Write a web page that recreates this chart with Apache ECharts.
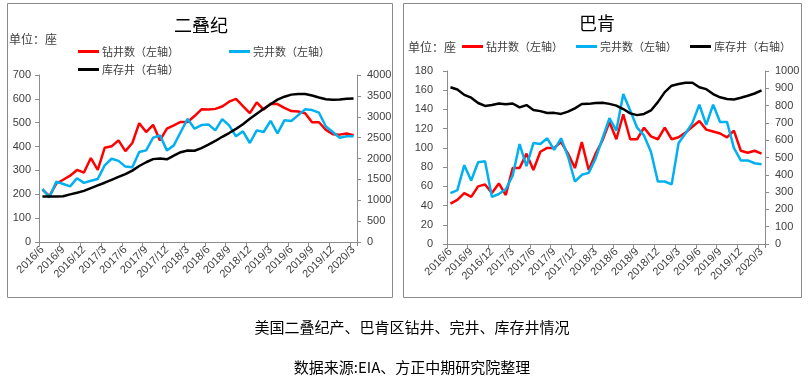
<!DOCTYPE html>
<html>
<head>
<meta charset="utf-8">
<script src="https://cdn.jsdelivr.net/npm/echarts@6/dist/echarts.min.js"></script>
<style>
html,body{margin:0;padding:0;background:#fff;}
#c{width:810px;height:379px;}
</style>
</head>
<body>
<div id="c"></div>
<script>
// ---- data ----
const months = ['2016/6','2016/7','2016/8','2016/9','2016/10','2016/11','2016/12','2017/1','2017/2','2017/3','2017/4','2017/5','2017/6','2017/7','2017/8','2017/9','2017/10','2017/11','2017/12','2018/1','2018/2','2018/3','2018/4','2018/5','2018/6','2018/7','2018/8','2018/9','2018/10','2018/11','2018/12','2019/1','2019/2','2019/3','2019/4','2019/5','2019/6','2019/7','2019/8','2019/9','2019/10','2019/11','2019/12','2020/1','2020/2','2020/3'];

const permianDrilled   = [220,192,245,261,278,302,291,352,302,395,401,426,381,415,498,461,491,426,475,489,503,503,528,556,555,558,568,588,600,570,540,585,555,580,578,562,549,547,540,502,502,470,452,450,455,448];
const permianCompleted = [222,187,253,243,233,267,248,257,264,321,349,340,316,313,377,384,437,447,384,405,461,516,475,490,493,468,515,489,443,464,415,468,461,508,455,510,507,532,556,553,542,484,461,437,443,443];
const permianDUC       = [1092,1092,1088,1095,1140,1180,1225,1290,1355,1420,1490,1560,1625,1710,1820,1910,1985,2000,1980,2070,2150,2190,2185,2250,2330,2420,2520,2610,2710,2820,2950,3070,3190,3300,3410,3480,3530,3545,3545,3510,3460,3420,3410,3415,3430,3435];

const bakkenDrilled    = [42,46,53,49,60,62,53,63,51,79,79,94,77,96,100,100,106,94,79,106,77,94,108,127,109,135,109,109,121,112,109,121,109,111,116,122,128,119,117,115,111,118,97,95,97,94];
const bakkenCompleted  = [53,56,82,66,85,86,49,52,57,71,104,81,105,104,110,98,110,91,65,72,74,89,110,131,118,156,139,121,113,96,65,65,62,105,115,126,145,124,145,127,127,100,87,87,84,83];
const bakkenDUC        = [906,893,862,846,815,798,803,812,808,812,790,803,775,768,757,758,752,765,784,809,810,815,817,810,800,780,755,745,752,772,820,878,915,925,932,932,906,895,867,848,838,835,845,857,870,888];

const nameDrilled = '钻井数（左轴）';
const nameCompleted = '完井数（左轴）';
const nameDUC = '库存井（右轴）';
const titleLeft = '二叠纪';
const titleRight = '巴肯';
const unitText = '单位：座';
const caption1 = '美国二叠纪产、巴肯区钻井、完井、库存井情况';
const caption2 = '数据来源:EIA、方正中期研究院整理';

// ---- styles ----
const CJK = '"Noto Sans CJK SC", "Noto Sans", sans-serif';
const NUM = '"Liberation Sans", Arial, sans-serif';
const axisColor = '#8c8c8c';
const labelColor = '#404040';
const RED = '#ff0000', BLUE = '#00b0f0', BLACK = '#000000';

function xAxis(g) {
  return {
    type: 'category', gridIndex: g, data: months, boundaryGap: true,
    axisLine: { lineStyle: { color: axisColor, width: 1 } },
    axisTick: { show: true, interval: 2, length: 4, lineStyle: { color: axisColor } },
    axisLabel: { interval: 2, rotate: 45, fontSize: 11, color: labelColor, margin: 6, fontFamily: NUM },
    splitLine: { show: false }
  };
}
function yAxis(g, pos, max, interval, margin) {
  return {
    type: 'value', gridIndex: g, position: pos, min: 0, max: max, interval: interval,
    axisLine: { show: true, lineStyle: { color: axisColor, width: 1 } },
    axisTick: { show: true, length: 4, lineStyle: { color: axisColor } },
    axisLabel: { fontSize: 11, color: labelColor, margin: margin, fontFamily: NUM,
                 formatter: function (v) { return String(v); } },
    splitLine: { show: false }
  };
}
function line(name, data, color, xi, yi) {
  return {
    type: 'line', name: name, data: data, xAxisIndex: xi, yAxisIndex: yi,
    showSymbol: false, symbol: 'none', smooth: false,
    lineStyle: { color: color, width: 2.5 }, itemStyle: { color: color },
    emphasis: { disabled: true }, animation: false
  };
}
function legend(name, left, top) {
  return {
    data: [name], left: left, top: top, icon: 'rect', itemWidth: 21, itemHeight: 3,
    selectedMode: false, padding: 0,
    textStyle: { fontSize: 11, color: labelColor, fontFamily: CJK, padding: [0, 0, 0, -2] }
  };
}
function text(str, x, y, size, color, align) {
  return {
    type: 'text', x: x, y: y, silent: true,
    style: { text: str, fontSize: size, fontFamily: CJK, fill: color,
             align: align, verticalAlign: 'middle', textAlign: align, textVerticalAlign: 'middle' }
  };
}

const chart = echarts.init(document.getElementById('c'), null, { renderer: 'canvas' });
chart.setOption({
  animation: false,
  backgroundColor: '#ffffff',
  grid: [
    { left: 39, top: 75, width: 318, height: 167 },
    { left: 447, top: 71, width: 318, height: 173 }
  ],
  xAxis: [xAxis(0), xAxis(1)],
  yAxis: [
    yAxis(0, 'left', 700, 100, 8),
    yAxis(0, 'right', 4000, 500, 10),
    yAxis(1, 'left', 180, 20, 14),
    yAxis(1, 'right', 1000, 100, 10)
  ],
  legend: [
    legend(nameDrilled, 78, 46),
    legend(nameCompleted, 229, 46),
    legend(nameDUC, 78, 64),
    legend(nameDrilled, 462, 41),
    legend(nameCompleted, 576, 41),
    legend(nameDUC, 690, 41)
  ],
  series: [
    line(nameDrilled, permianDrilled, RED, 0, 0),
    line(nameCompleted, permianCompleted, BLUE, 0, 0),
    line(nameDUC, permianDUC, BLACK, 0, 1),
    line(nameDrilled, bakkenDrilled, RED, 1, 2),
    line(nameCompleted, bakkenCompleted, BLUE, 1, 2),
    line(nameDUC, bakkenDUC, BLACK, 1, 3)
  ],
  graphic: [
    { type: 'rect', silent: true, shape: { x: 7.5, y: 3.5, width: 385, height: 294 },
      style: { fill: 'none', stroke: '#8a8a8a', lineWidth: 1 } },
    { type: 'rect', silent: true, shape: { x: 403.5, y: 3.5, width: 398, height: 294 },
      style: { fill: 'none', stroke: '#8a8a8a', lineWidth: 1 } },
    text(titleLeft, 201, 25, 18, '#000', 'center'),
    text(titleRight, 597, 23, 18, '#000', 'center'),
    text(unitText, 9, 39, 12, labelColor, 'left'),
    text(unitText, 408, 47, 12, labelColor, 'left'),
    text(caption1, 412, 327, 15, '#000', 'center'),
    text(caption2, 412, 367, 15, '#000', 'center')
  ]
});
</script>
</body>
</html>
